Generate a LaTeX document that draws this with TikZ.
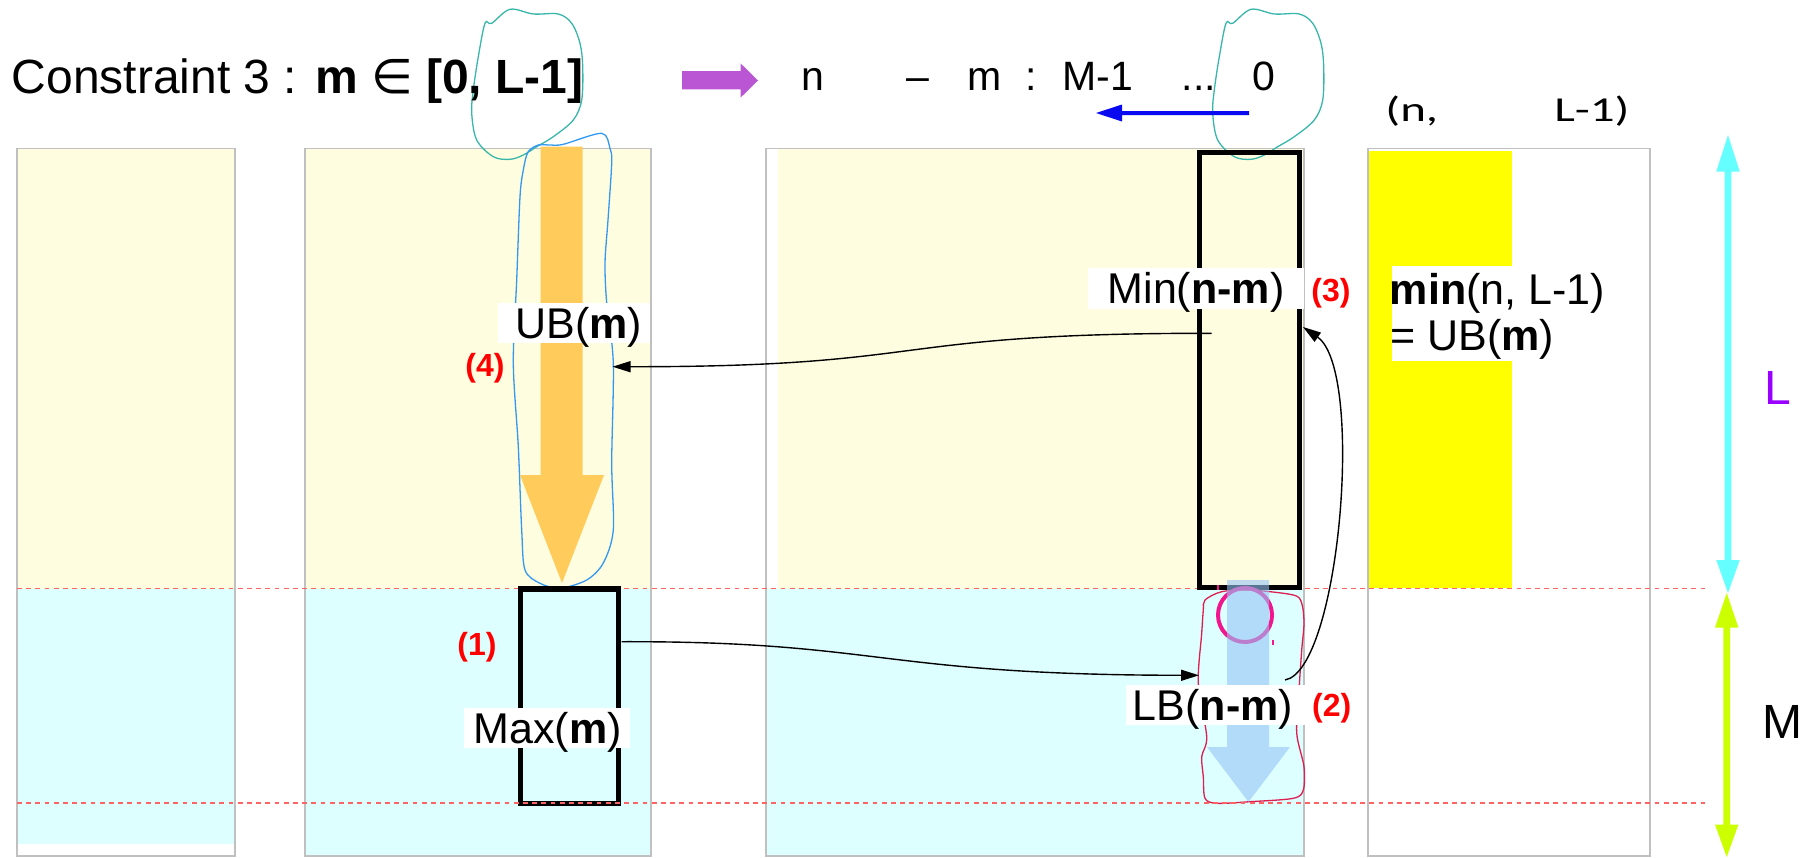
\documentclass[tikz,border=0pt]{standalone}
\usepackage{fontspec}
\usepackage{graphicx}
\setmainfont{Liberation Sans}
\newfontfamily\carl{Carlito}
\newfontfamily\dvs{DejaVu Sans}
\usetikzlibrary{arrows.meta}
\definecolor{ltyel}{RGB}{255,253,224}
\definecolor{ltcyan}{RGB}{222,255,255}
\definecolor{brightyel}{RGB}{255,255,0}
\definecolor{panelgrey}{RGB}{192,192,192}
\definecolor{orangeA}{RGB}{255,204,92}
\definecolor{ltblueA}{RGB}{150,196,246}
\definecolor{pinkC}{RGB}{242,22,142}
\definecolor{tealC}{RGB}{56,182,170}
\definecolor{blueC}{RGB}{51,153,240}
\definecolor{redC}{RGB}{220,30,80}
\definecolor{dashred}{RGB}{255,100,100}
\definecolor{purpA}{RGB}{186,85,211}
\definecolor{blueA}{RGB}{10,10,240}
\definecolor{cyanA}{RGB}{102,255,255}
\definecolor{greenA}{RGB}{204,255,0}
\definecolor{violetL}{RGB}{153,0,255}
\definecolor{numred}{RGB}{255,0,0}
\begin{document}
\begin{tikzpicture}[x=0.5pt,y=-0.5pt,
  panel/.style={draw=panelgrey, line width=0.75pt},
  thickbox/.style={draw=black, line width=2.6pt},
  loopline/.style={line width=0.65pt},
  conn/.style={draw=black, line width=0.7pt, -{Triangle[length=9pt,width=5.5pt]}},
  dashline/.style={draw=dashred, line width=0.6pt, dash pattern=on 2.4pt off 2.2pt},
  lbl/.style={inner sep=0pt, font=\fontsize{21.5pt}{26pt}\selectfont},
  toptxt/.style={inner sep=0pt, font=\fontsize{20.5pt}{24pt}\selectfont},
  num/.style={inner sep=0pt, text=numred, font=\fontsize{16pt}{19pt}\selectfont\bfseries},
  bigtxt/.style={inner sep=0pt, font=\fontsize{24pt}{28pt}\selectfont},
  pairtxt/.style={inner sep=0pt, font=\carl\fontsize{17.5pt}{20pt}\selectfont},
  whitebg/.style={fill=white, draw=none}
]
\useasboundingbox (0,0) rectangle (1805,857);

% ---------- panel fills ----------
\fill[ltyel] (17,148.5) rectangle (235,588.5);
\fill[ltcyan] (17,588.5) rectangle (235,844);
\fill[ltyel] (305,148.5) rectangle (651,588.5);
\fill[ltcyan] (305,588.5) rectangle (651,856);
\fill[ltyel] (778,148.5) rectangle (1304,588.5);
\fill[ltcyan] (766,588.5) rectangle (1304,856);
\fill[brightyel] (1368,150.5) rectangle (1512,587.5);

% ---------- panel borders ----------
\draw[panel] (17,148.5) rectangle (235,856);
\draw[panel] (305,148.5) rectangle (651,856);
\draw[panel] (766,148.5) rectangle (1304,856);
\draw[panel] (1368,148.5) rectangle (1650,856);

% ---------- orange arrow ----------
\fill[orangeA] (540.7,146.7) -- (582.7,146.7) -- (582.7,475) -- (604,475) -- (562,583)
  -- (520,475) -- (540.7,475) -- cycle;

% ---------- hand-drawn loops ----------
\draw[tealC, loopline] plot[smooth cycle, tension=0.55] coordinates {
  (485,23.3) (491.7,23.3) (510,9.3) (533.3,14) (558.3,14) (571.7,23.3) (580,43.3)
  (582.7,66.7) (581.7,100) (573.3,120) (553.3,136.7) (536.7,146.7) (523.3,155)
  (510,159.3) (493.3,156.7) (476.7,140) (471.7,113.3) (473.3,90) (478.3,56.7)};
\begin{scope}[shift={(741,0)}]
\draw[tealC, loopline] plot[smooth cycle, tension=0.55] coordinates {
  (485,23.3) (491.7,23.3) (510,9.3) (533.3,14) (558.3,14) (571.7,23.3) (580,43.3)
  (582.7,66.7) (581.7,100) (573.3,120) (553.3,136.7) (536.7,146.7) (523.3,155)
  (510,159.3) (493.3,156.7) (476.7,140) (471.7,113.3) (473.3,90) (478.3,56.7)};
\end{scope}
\draw[blueC, loopline] plot[smooth cycle, tension=0.5] coordinates {
  (538.3,145) (550,145) (563.3,144.3) (601.7,133.3) (610,148.3) (611.7,163) (608,220)
  (605,263) (606.7,303) (613.3,363) (611.7,463) (613.3,530) (603.3,563) (586.7,580)
  (560,588.3) (540,583.3) (525,570) (521.7,530) (518.3,446.7) (513.3,363.3)
  (516.7,280) (520,196.7) (523.3,170) (528,152)};
\draw[redC, loopline] plot[smooth cycle, tension=0.5] coordinates {
  (1205,600) (1221.7,591.7) (1250,590) (1293.3,595) (1301.7,603.3) (1304,623.3)
  (1301.7,650) (1299,690) (1296.7,733) (1304,766.7) (1303.3,790) (1293.3,798.3)
  (1250,801.7) (1216.7,803.3) (1205,798.3) (1203.3,776.7) (1201.7,756.7)
  (1206.7,736.7) (1198.3,683.3) (1201.7,633.3) (1203.3,610)};

% ---------- upper dashed line ----------
\draw[dashline] (17,588.5) -- (1705,588.5);

% ---------- thick boxes ----------
\draw[thickbox] (520.5,589) rectangle (618.5,803.3);
\draw[thickbox] (1199.2,152.8) rectangle (1299.2,587.5);

% ---------- pink circle and light blue arrow ----------
\draw[pinkC, line width=2pt] (1245,615) circle[radius=27];
\draw[pinkC, line width=0.8pt] (1218,585) -- (1218,590);
\draw[pinkC, line width=0.8pt] (1273,640) -- (1273,645);
\fill[ltblueA, fill opacity=0.6] (1227,580) -- (1269,580) -- (1269,747) -- (1290,747)
  -- (1248.5,802) -- (1207,747) -- (1227,747) -- cycle;

% ---------- lower dashed line ----------
\draw[dashline] (17,803) -- (1705,803);

% ---------- connectors ----------
\coordinate (minA) at (1211.6,333.3);
\coordinate (ubA) at (612.5,366.7);
\coordinate (maxA) at (621.7,641.7);
\coordinate (lbA) at (1199,675.3);
\coordinate (lbB) at (1285,680);
\coordinate (minB) at (1303,327);
\draw[conn] (minA) .. controls (880,333) and (940,367) .. (ubA);
\draw[conn] (maxA) .. controls (880,641) and (880,675) .. (lbA);
\draw[conn] (lbB) .. controls (1340,670) and (1365,370) .. (minB);

% ---------- labels with white backgrounds ----------
\fill[whitebg] (498,303) rectangle (650,343);
\node[lbl, anchor=base] (ub) at (579,338) {UB(\textbf{m})};
\fill[whitebg] (1088,268) rectangle (1304,309);
\node[lbl, anchor=base] (minnm) at (1196,303.3) {Min(\textbf{n-m})};
\fill[whitebg] (464,708) rectangle (630,748);
\node[lbl, anchor=base] (maxm) at (547.7,743.3) {Max(\textbf{m})};
\fill[whitebg] (1126,685) rectangle (1305,725);
\node[lbl, anchor=base] (lbnm) at (1213,720) {LB(\textbf{n-m})};
\fill[whitebg] (1392,266) rectangle (1606,361);
\node[lbl, anchor=base west] (minnl) at (1389.5,304) {\textbf{min}(n, L-1)};
\node[lbl, anchor=base west] (equb) at (1390,350.7) {= UB(\textbf{m})};

% ---------- red step numbers ----------
\node[num, anchor=base] (n4) at (485,376) {(4)};
\node[num, anchor=base] (n1) at (477,655.5) {(1)};
\node[num, anchor=base] (n3) at (1331,301.5) {(3)};
\node[num, anchor=base] (n2) at (1331.7,716.5) {(2)};

% ---------- title and top row ----------
\node[bigtxt, anchor=base west] (title) at (11.5,93.5)
  {Constraint 3 : \textbf{m} {\dvs ∈} \textbf{[0, L-1]}};
\fill[purpA] (682,71) -- (740.5,71) -- (740.5,63.3) -- (758,80.5) -- (740.5,97.7)
  -- (740.5,89.3) -- (682,89.3) -- cycle;
\node[toptxt, anchor=base] (tn) at (813,90) {n};
\node[toptxt, anchor=base] (tdash) at (917.5,90) {–};
\node[toptxt, anchor=base] (tm) at (984.5,90) {m};
\node[toptxt, anchor=base] (tcolon) at (1031.5,90) {:};
\node[toptxt, anchor=base] (tM) at (1098,90) {M-1};
\node[toptxt, anchor=base] (tdots) at (1199,90) {...};
\node[toptxt, anchor=base] (tzero) at (1263.5,90) {0};
\fill[blueA] (1096,113) -- (1122,104.5) -- (1122,111) -- (1249,111) -- (1249,115)
  -- (1122,115) -- (1122,121.5) -- cycle;
\node[pairtxt, anchor=base west] (pn) at (1385,121) {\scalebox{1.4}[1]{(n,}};
\node[pairtxt, anchor=base east] (pl) at (1630,121) {\scalebox{1.4}[1]{L-1)}};

% ---------- right-hand dimension arrows ----------
\fill[cyanA] (1728,135) -- (1739.7,171.5) -- (1731.3,171.5) -- (1731.3,560) -- (1739.7,560)
  -- (1728,593) -- (1716.3,560) -- (1724.7,560) -- (1724.7,171.5) -- (1716.3,171.5) -- cycle;
\fill[greenA] (1726.7,593) -- (1738.4,627.5) -- (1730,627.5) -- (1730,824.6) -- (1738.4,824.6)
  -- (1726.7,857) -- (1715,824.6) -- (1723.4,824.6) -- (1723.4,627.5) -- (1715,627.5) -- cycle;
\node[bigtxt, text=violetL, anchor=base] (Ltxt) at (1777.5,404) {L};
\node[bigtxt, anchor=base] (Mtxt) at (1782.5,738) {M};
\end{tikzpicture}
\end{document}
